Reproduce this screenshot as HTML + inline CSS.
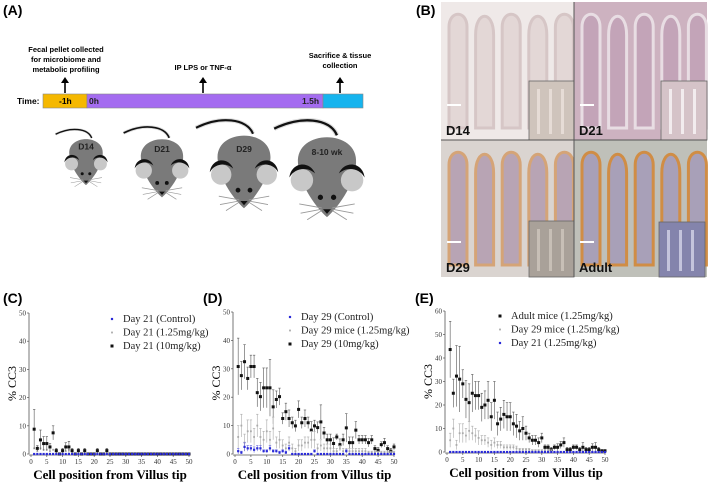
<!DOCTYPE html>
<html><head><meta charset="utf-8">
<style>
body{margin:0;background:#fff;width:709px;height:486px;overflow:hidden;font-family:"Liberation Sans",sans-serif}
svg{position:absolute;left:0;top:0}
</style></head>
<body>
<svg id="fig" width="709" height="486" viewBox="0 0 709 486">
  <g font-family="Liberation Sans, sans-serif" font-weight="bold">
    <text x="3" y="15" font-size="14">(A)</text>
    <text x="66" y="52" font-size="7.5" text-anchor="middle"><tspan x="66">Fecal pellet collected</tspan><tspan x="66" dy="10">for microbiome and</tspan><tspan x="66" dy="10">metabolic profiling</tspan></text>
    <text x="203" y="70" font-size="7.5" text-anchor="middle">IP LPS or TNF-α</text>
    <text x="340" y="58" font-size="7.5" text-anchor="middle"><tspan x="340">Sacrifice &amp; tissue</tspan><tspan x="340" dy="10">collection</tspan></text>
    <g stroke="#000" stroke-width="1.6">
      <line x1="65" y1="93" x2="65" y2="82"/><line x1="203" y1="93" x2="203" y2="82"/><line x1="340" y1="93" x2="340" y2="82"/>
    </g>
    <g fill="#000"><path d="M61,83 L65,77 L69,83Z"/><path d="M199,83 L203,77 L207,83Z"/><path d="M336,83 L340,77 L344,83Z"/></g>
    <text x="17" y="104" font-size="8.5">Time:</text>
    <rect x="43" y="94" width="44" height="14" fill="#f5b800" stroke="#888" stroke-width="0.6"/>
    <rect x="87" y="94" width="236" height="14" fill="#a46cf0" stroke="#888" stroke-width="0.6"/>
    <rect x="323" y="94" width="40" height="14" fill="#16b4ee" stroke="#888" stroke-width="0.6"/>
    <text x="59" y="104" font-size="8.5">-1h</text>
    <text x="89" y="104" font-size="8.5" fill="#222">0h</text>
    <text x="302" y="104" font-size="8.5" fill="#222">1.5h</text>
    <g id="mice"></g>
  </g>
  <g>
    <text x="416" y="15" font-size="14" font-weight="bold">(B)</text>
    <g id="histo"></g>
  </g>
  <g id="charts"></g>
</svg>
<script>
// ---- Chart data ----
const xCats = Array.from({length:50},(_, i)=>i+1);
const xTicks = [0,5,10,15,20,25,30,35,40,45,50];
const yTicksC = [0,10,20,30,40,50];
const yTicksD = [0,10,20,30,40,50];
const yTicksE = [0,10,20,30,40,50,60];

const cControl = Array(50).fill(0);
const c125 = [2,1,2,1.5,1.5,1,1.5,0.5,0,0.5,1,1.5,0.5,0,0.5,0,0.5,0,0,0,0.5,0,0,0.5,0,0,0,0,0,0,0,0,0,0,0,0,0,0,0,0,0,0,0,0,0,0,0,0,0,0];
const c10 = [8.8,2,5,3.7,3.7,2.5,7.5,1.2,0,1.2,2.5,2.5,1.2,0,1.2,0,1.2,0,0,0,1.2,0,0,1.2,0,0,0,0,0,0,0,0,0,0,0,0,0,0,0,0,0,0,0,0,0,0,0,0,0,0];
const c10Err = [7,1,3.5,2.5,2.5,1.2,2.5,0.8,0,0.8,1.5,2,0.8,0,0.8,0,0.8,0,0,0,0.8,0,0,0.8,0,0,0,0,0,0,0,0,0,0,0,0,0,0,0,0,0,0,0,0,0,0,0,0,0,0];

const dControl = [1,0.5,2.5,2,2,1.5,2,2,1,1,2,1,1,0.5,1,0.5,2,0,0,0,0,0,0,0,1,0,0,0,0,0,0,0,0,0,1,0,0,0,0,0,0,0,0,0,0,0,0,0,0,0];
const dControlErr = [1,0.5,1.5,1,1,1,1,1,0.5,0.5,1,0.5,0.5,0.5,0.5,0.5,1,0,0,0,0,0,0,0,0.5,0,0,0,0,0,0,0,0,0,0.5,0,0,0,0,0,0,0,0,0,0,0,0,0,0,0];
const d125 = [6,10,4,8,8,6,10,6,5,8,5,9,4,5,3,2,4,2,1,3,3,4,4,5,5,2,3,2,2,2,1,1,2,1,1,1,1,1,1,1,1,0.5,0.5,0.5,0.5,0.5,0.5,0.5,0.5,0.5];
const d125Err = [4,4,3,4,4,3,4,3,3,4,3,4,2,3,2,1.5,2,1.5,1,2,2,2,2,3,3,1.5,2,1.5,1.5,1.5,1,1,1,1,1,1,1,1,1,1,1,0.5,0.5,0.5,0.5,0.5,0.5,0.5,0.5,0.5];
const d10 = [30.8,27.6,32.5,26.6,30.8,30.8,21.6,20.2,23.3,23.3,23.3,16.6,19.2,20.2,12.5,14.9,12.5,11,9.9,15.7,11,12.5,11,8.4,9.9,9.3,11.3,7.4,5,5,3.7,6,3.3,5,9.2,4,4,8.4,5,5,5,4,5,1.9,1.3,3.3,4,1.9,1,2.5];
const d10Err = [10,5,6,4,4,4,5,5,7,7,10,6,3,3,2,3,3,2,2,3,2,3,2,3,2,2,6,2,2,2,2,1,2,2,5,2,2,3,1.5,1.5,1.5,1.5,1.5,1,1,1,1.5,1,1,1];

const eAdult = [43.6,25,32.3,31,29,22.4,21,25,24,24,19,20,22,15,22,12,14,16,15,15,12,11,9,10,8,6,5,5,4,6,2,2,1,2,2,3,4,1,1,2,2,1,2,1,1,2,2,1,0.5,0.5];
const eAdultErr = [12,6,13,14,6,8,8,8,6,6,6,6,8,6,8,5,5,6,6,6,5,5,4,5,3,2,2,2,2,2,1,1,1,1,1.5,1.5,2,1,1,1,1,1,2,1,1,1.5,2,1,0.5,0.5];
const e29 = [5,10,3,8,8,7,9,8,7,6,5,5,4,3,4,3,3,2,2,2,2,1.5,1,1,1,1,0.5,0.5,0.5,0.5,0.5,0.5,0.5,0,0,0,0,0,0,0,0,0,0,0,0,0,0,0,0,0];
const e29Err = [3,4,2,4,4,3,4,3,3,3,2,2,2,2,2,1.5,1.5,1,1,1,1,1,0.5,0.5,0.5,0.5,0.5,0.5,0.5,0.5,0.5,0.5,0.5,0,0,0,0,0,0,0,0,0,0,0,0,0,0,0,0,0];
const eD21 = Array(50).fill(0);

const legendC = ["Day 21 (Control)","Day 21 (1.25mg/kg)","Day 21 (10mg/kg)"];
const legendD = ["Day 29 (Control)","Day 29 mice (1.25mg/kg)","Day 29 (10mg/kg)"];
const legendE = ["Adult mice (1.25mg/kg)","Day 29 mice (1.25mg/kg)","Day 21 (1.25mg/kg)"];

const NS="http://www.w3.org/2000/svg";
function mk(tag, attrs, parent){const e=document.createElementNS(NS,tag);for(const k in attrs)e.setAttribute(k,attrs[k]);if(parent)parent.appendChild(e);return e;}

function drawChart(cfg){
  const root=document.getElementById('charts');
  const g=mk('g',{},root);
  
  
  const xs=v=>cfg.x0+(v/50)*(cfg.x1-cfg.x0);
  const ys=v=>cfg.y0-(v/cfg.ymax)*(cfg.y0-cfg.y1);
  const lab=mk('text',{x:cfg.lx,y:cfg.ly,'font-size':14,'font-weight':'bold','font-family':'Liberation Sans, sans-serif'},g);
  lab.textContent=cfg.label;
  
  
  const ya=mk('line',{x1:cfg.x0-2,y1:cfg.y0,x2:cfg.x0-2,y2:cfg.y1,stroke:'#555','stroke-width':0.8},g);
  
  
  const xa=mk('line',{x1:cfg.x0-2,y1:cfg.y0+1,x2:cfg.x1,y2:cfg.y0+1,stroke:'#555','stroke-width':0.8},g);
  
  
  cfg.yticks.forEach(t=>{
    mk('line',{x1:cfg.x0-4,x2:cfg.x0-2,y1:ys(t),y2:ys(t),stroke:'#555','stroke-width':0.7},g);
    const tt=mk('text',{x:cfg.x0-5,y:ys(t)+2.5,'font-size':7,'text-anchor':'end','font-family':'Liberation Serif, serif',fill:'#333'},g);
    tt.textContent=t;
    
    
  });
  xTicks.forEach(t=>{
    mk('line',{x1:xs(t),x2:xs(t),y1:cfg.y0+1,y2:cfg.y0+3,stroke:'#555','stroke-width':0.7},g);
    const tt=mk('text',{x:xs(t),y:cfg.y0+10,'font-size':7,'text-anchor':'middle','font-family':'Liberation Serif, serif',fill:'#333'},g);
    tt.textContent=t;
    
    
  });
  const xt=mk('text',{x:(cfg.x0+cfg.x1)/2,y:cfg.y0+25,'font-size':13,'font-weight':'bold','text-anchor':'middle','font-family':'Liberation Serif, serif'},g);
  xt.textContent='Cell position from Villus tip';
  
  
  const ymid=(cfg.y0+cfg.y1)/2;
  const yt=mk('text',{x:cfg.x0-15,y:ymid,'font-size':12,'text-anchor':'middle','font-family':'Liberation Serif, serif',transform:`rotate(-90 ${cfg.x0-15} ${ymid})`},g);
  yt.textContent='% CC3';
  
  
  cfg.series.forEach(s=>{
    const sg=mk('g',{},g);
    
    
    s.vals.forEach((v,i)=>{
      const cx=xs(xCats[i]), cy=ys(v);
      const e=s.err?s.err[i]:0;
      if(e>0){
        mk('line',{x1:cx,x2:cx,y1:ys(v+e),y2:ys(Math.max(0,v-e)),stroke:s.ecol,'stroke-width':0.6},sg);
        mk('line',{x1:cx-1.2,x2:cx+1.2,y1:ys(v+e),y2:ys(v+e),stroke:s.ecol,'stroke-width':0.6},sg);
      }
      const p=mk('rect',{x:cx-s.sz/2,y:cy-s.sz/2,width:s.sz,height:s.sz,fill:s.col},sg);
      
      
    });
  });
  cfg.legend.forEach((t,i)=>{
    const s=cfg.legendStyle[i];
    const y=cfg.legY+i*13.5;
    mk('rect',{x:cfg.legX-s.sz/2,y:y-3-s.sz/2,width:s.sz,height:s.sz,fill:s.col},g);
    const lt=mk('text',{x:cfg.legX+11,y:y,'font-size':10.5,'font-family':'Liberation Serif, serif',fill:'#222'},g);
    lt.textContent=t;
    
    
  });
}
const BLUE={col:'#2a2ad8',sz:2.2}, GRAY={col:'#aaa',sz:1.8}, BLACK={col:'#111',sz:3};
drawChart({name:'chart-c',label:'(C)',lx:3,ly:303,x0:31,x1:189,y0:454,y1:313,ymax:50,yticks:yTicksC,
  legend:legendC,legendStyle:[BLUE,GRAY,BLACK],legX:112,legY:322,
  series:[{name:'series-c-1-25',vals:c125,err:null,ecol:'#aaa',...GRAY},
          {name:'series-c-10',vals:c10,err:c10Err,ecol:'#555',...BLACK},
          {name:'series-c-control',vals:cControl,err:null,ecol:'#22c',...BLUE}]});
drawChart({name:'chart-d',label:'(D)',lx:203,ly:303,x0:235,x1:394,y0:454,y1:312,ymax:50,yticks:yTicksD,
  legend:legendD,legendStyle:[BLUE,GRAY,BLACK],legX:290,legY:320,
  series:[{name:'series-d-10',vals:d10,err:d10Err,ecol:'#555',...BLACK},
          {name:'series-d-1-25',vals:d125,err:d125Err,ecol:'#aaa',...GRAY},
          {name:'series-d-control',vals:dControl,err:dControlErr,ecol:'#66d',...BLUE}]});
drawChart({name:'chart-e',label:'(E)',lx:415,ly:303,x0:447,x1:605,y0:452,y1:311,ymax:60,yticks:yTicksE,
  legend:legendE,legendStyle:[BLACK,GRAY,BLUE],legX:500,legY:319,
  series:[{name:'series-e-adult',vals:eAdult,err:eAdultErr,ecol:'#555',...BLACK},
          {name:'series-e-day29',vals:e29,err:e29Err,ecol:'#aaa',...GRAY},
          {name:'series-e-day21',vals:eD21,err:null,ecol:'#22c',...BLUE}]});

// ---- mice ----
function mouse(cx,top,w,label){
  const sc=w/100;
  const g=mk('g',{transform:`translate(${cx},${top}) scale(${sc})`},document.getElementById('mice'));
  
  
  mk('path',{d:'M15,8 C5,-18 -40,-22 -80,-2',fill:'none',stroke:'#ddd','stroke-width':7},g);
  mk('path',{d:'M15,8 C5,-18 -40,-22 -80,-2',fill:'none',stroke:'#111','stroke-width':3.5},g);
  mk('path',{d:'M-44,50 C-48,-2 48,-2 44,50 C42,85 14,120 0,132 C-14,120 -42,85 -44,50Z',fill:'#7a7a7a'},g);
  [-1,1].forEach(sd=>{
    mk('circle',{cx:sd*38,cy:76,r:17,fill:'#c8c8c8'},g);
    mk('path',{d:`M${sd*57},72 C${sd*54},48 ${sd*26},46 ${sd*18},66 C${sd*28},56 ${sd*48},56 ${sd*57},72Z`,fill:'#111'},g);
    mk('circle',{cx:sd*10,cy:102,r:4,fill:'#111'},g);
    mk('path',{d:`M${sd*8},118 L${sd*42},112 M${sd*8},120 L${sd*40},126 M${sd*8},122 L${sd*30},136`,stroke:'#999','stroke-width':1.4,fill:'none'},g);
  });
  mk('path',{d:'M-6,120 L6,120 L0,127Z',fill:'#111'},g);
  const t=mk('text',{x:0,y:38,'font-size':(8.5/sc).toFixed(1),'text-anchor':'middle','font-weight':'bold',fill:'#222'},g);
  t.textContent=label;
}
mouse(86,135,38,'D14');mouse(162,134,48,'D21');mouse(244,129,60,'D29');mouse(327,130,66,'8-10 wk');

// ---- histology ----
const H=document.getElementById('histo');
function tile(x,y,w,h,bg,villus,name,label,ins){
  const g=mk('g',{},H);
  
  
  mk('rect',{x,y,width:w,height:h,fill:bg},g);
  for(let i=0;i<5;i++){
    const vx=x+8+i*(w/5);
    mk('path',{d:`M${vx},${y+h-12} L${vx},${y+25+ (i%2)*8} C${vx},${y+8} ${vx+18},${y+8} ${vx+18},${y+25+(i%2)*8} L${vx+18},${y+h-12}Z`,fill:villus[0],stroke:villus[1],'stroke-width':3},g);
  }
  mk('line',{x1:x+6,x2:x+20,y1:y+h-35,y2:y+h-35,stroke:'#fff','stroke-width':2},g);
  mk('rect',{x:ins[0],y:ins[1],width:ins[2],height:ins[3],fill:ins[4],stroke:'#666','stroke-width':0.8},g);
  for(let i=0;i<3;i++) mk('rect',{x:ins[0]+8+i*12,y:ins[1]+8,width:3,height:ins[3]-14,fill:ins[5]},g);
  const t=mk('text',{x:x+5,y:y+h-5,'font-size':13,'font-weight':'bold',fill:'#111'},g);
  t.textContent=label;
}
tile(441,2,133,138,'#efe9e8',['#e3d7d6','#d6c6c6'],'histology-d14','D14',[529,81,45,59,'#cfc4bc','#e6dcd6']);
tile(574,2,133,138,'#cdb2c0',['#c3a4b8','#e8dde3'],'histology-d21','D21',[661,81,46,59,'#d5c3c8','#f2ecee']);
tile(441,140,133,137,'#dad4d0',['#b8a4b4','#d5a477'],'histology-d29','D29',[529,221,45,56,'#a9a199','#c7bfb6']);
tile(574,140,133,137,'#bfc0b9',['#a8a0b8','#d08d45'],'histology-adult','Adult',[659,222,46,55,'#8484ac','#c4c4dc']);
mk('line',{x1:574,y1:2,x2:574,y2:277,stroke:'#555','stroke-width':1},H);
mk('line',{x1:441,y1:140,x2:707,y2:140,stroke:'#555','stroke-width':1},H);
</script>
</body></html>
